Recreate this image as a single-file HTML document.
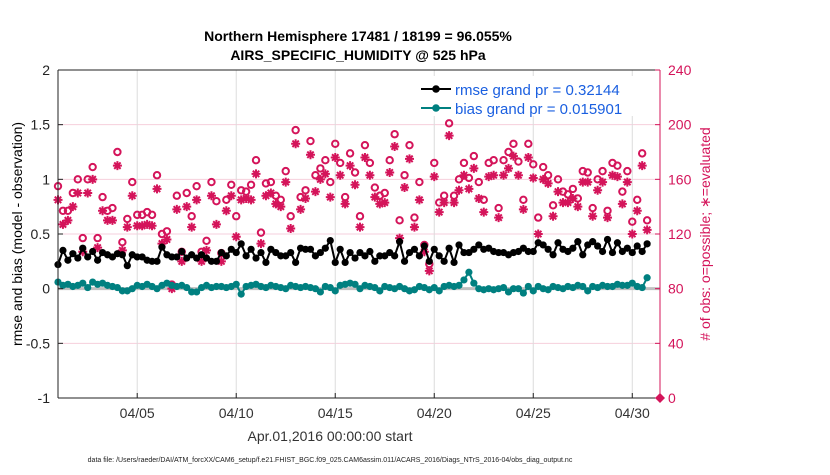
<!DOCTYPE html>
<html><head><meta charset="utf-8"><style>
body{margin:0;background:#fff;font-family:"Liberation Sans",Arial,sans-serif}
svg text{font-family:"Liberation Sans",Arial,sans-serif}
</style></head><body>
<svg id="c" width="830" height="470" xmlns="http://www.w3.org/2000/svg">
<rect width="830" height="470" fill="#fff"/>
<text x="358" y="41" text-anchor="middle" font-size="14" font-weight="bold">Northern Hemisphere 17481 / 18199 = 96.055%</text>
<text x="358" y="60" text-anchor="middle" font-size="14" font-weight="bold">AIRS_SPECIFIC_HUMIDITY @ 525 hPa</text>
<g id="grid"></g>
<g id="marks"></g>
<g id="axes"></g>
<text transform="translate(22,234) rotate(-90)" text-anchor="middle" font-size="14">rmse and bias (model - observation)</text>
<text transform="translate(710,234) rotate(-90)" text-anchor="middle" font-size="14" fill="#d4145a"># of obs: o=possible; ∗=evaluated</text>
<text x="330" y="441" text-anchor="middle" font-size="14" fill="#333">Apr.01,2016 00:00:00 start</text>
<text x="330" y="462" text-anchor="middle" font-size="7" fill="#222">data file: /Users/raeder/DAI/ATM_forcXX/CAM6_setup/f.e21.FHIST_BGC.f09_025.CAM6assim.011/ACARS_2016/Diags_NTrS_2016-04/obs_diag_output.nc</text>
<g>
<rect x="416" y="76" width="240" height="40" fill="#fff"/>
<line x1="421" y1="89" x2="451" y2="89" stroke="#000" stroke-width="2"/>
<circle cx="436" cy="89" r="3.8" fill="#000"/>
<text x="455" y="95" font-size="15" fill="#1a5fe0">rmse grand pr = 0.32144</text>
<line x1="421" y1="108" x2="451" y2="108" stroke="#008080" stroke-width="2"/>
<circle cx="436" cy="108" r="3.8" fill="#008080"/>
<text x="455" y="114" font-size="15" fill="#1a5fe0">bias grand pr = 0.015901</text>
</g>
</svg>
<script>
const rmse=[0.22,0.35,0.26,0.32,0.28,0.37,0.29,0.34,0.26,0.33,0.31,0.29,0.32,0.31,0.21,0.31,0.29,0.29,0.26,0.25,0.25,0.38,0.31,0.29,0.29,0.34,0.28,0.31,0.28,0.31,
0.28,0.25,0.25,0.33,0.30,0.36,0.33,0.41,0.30,0.36,0.28,0.33,0.24,0.36,0.33,0.30,0.30,0.33,0.24,0.37,0.36,0.36,0.30,0.33,0.37,0.44,0.24,0.36,0.24,0.33,
0.28,0.33,0.30,0.34,0.25,0.30,0.30,0.33,0.30,0.43,0.25,0.33,0.36,0.30,0.39,0.25,0.36,0.30,0.25,0.37,0.24,0.40,0.33,0.33,0.36,0.40,0.36,0.37,0.34,0.33,
0.33,0.31,0.33,0.34,0.37,0.34,0.34,0.42,0.40,0.36,0.31,0.42,0.36,0.34,0.37,0.43,0.31,0.40,0.43,0.39,0.34,0.45,0.33,0.42,0.34,0.37,0.33,0.39,0.34,0.41];
const bias=[0.06,0.03,0.04,0.02,0.03,0.05,0.01,0.06,0.04,0.05,0.03,0.02,0.01,-0.02,-0.02,0.00,0.03,0.02,0.04,0.02,0.00,0.03,0.05,0.03,0.02,0.03,0.01,-0.03,-0.03,0.01,
0.03,0.01,0.02,0.02,0.01,0.02,0.04,-0.05,0.02,0.03,0.04,0.02,0.01,0.03,0.02,0.01,0.00,0.03,0.02,0.01,0.02,0.01,0.00,-0.03,0.02,0.01,-0.02,0.03,0.04,0.05,
0.04,0.00,0.03,0.02,0.01,-0.02,0.02,0.01,0.00,0.02,0.00,-0.02,-0.01,0.02,0.01,-0.01,0.01,-0.02,0.02,0.03,0.02,0.03,0.08,0.15,0.05,0.00,-0.01,0.00,-0.01,0.00,
0.01,-0.03,0.00,0.00,-0.04,0.02,-0.02,0.02,0.00,-0.01,0.02,0.01,0.00,0.02,0.01,0.03,0.02,-0.02,0.02,0.01,0.03,0.02,0.02,0.04,0.03,0.03,0.05,0.02,0.01,0.10];
const possible=[155,137,137,150,160,117,160,169,117,147,137,139,180,114,131,158,134,134,136,134,163,120,122,83,148,107,150,133,155,107,
115,158,144,106,145,156,133,152,151,156,174,121,157,158,148,145,166,133,196,147,152,188,163,168,174,158,186,172,147,179,
165,133,185,172,154,148,150,174,193,130,163,185,132,158,112,98,172,143,148,201,148,160,172,161,177,158,145,172,174,139,
174,180,186,173,145,186,171,132,169,163,141,160,151,149,153,146,166,165,139,160,166,137,172,170,151,166,129,145,179,130];
const evaluated=[145,127,130,140,150,107,150,160,110,137,130,130,170,108,125,148,126,126,127,126,153,113,116,80,138,100,140,125,145,100,
108,148,127,100,137,148,118,145,146,145,164,113,148,150,142,140,158,124,186,138,146,178,151,160,164,147,176,163,142,170,
156,125,176,163,147,142,143,165,184,117,154,175,125,145,107,93,162,136,143,192,143,152,163,153,168,146,136,162,163,132,
163,168,177,163,138,176,161,120,160,157,133,151,143,143,146,140,158,158,133,152,158,132,163,162,142,158,120,137,170,123];
const leftTicks=[-1,-0.5,0,0.5,1,1.5,2];
const leftTickLabels=["-1","-0.5","0","0.5","1","1.5","2"];
const rightTicks=[0,40,80,120,160,200,240];
const xTickDays=[4,9,14,19,24,29];
const xTickLabels=["04/05","04/10","04/15","04/20","04/25","04/30"];
const stepDays=0.25;

const X0=58,X1=660,Y0=70,Y1=398,DMAX=30.4;
const NS="http://www.w3.org/2000/svg";
function xs(d){return X0+(d/DMAX)*(X1-X0);}
function yl(v){return Y1-(v+1)/3*(Y1-Y0);}
function yr(c){return Y1-c/240*(Y1-Y0);}
function mk(tag,at,parent){const e=document.createElementNS(NS,tag);for(const k in at)e.setAttribute(k,at[k]);parent.appendChild(e);return e;}
const grid=document.getElementById('grid'),marks=document.getElementById('marks'),axes=document.getElementById('axes');
mk('rect',{x:X0,y:Y0,width:X1-X0,height:Y1-Y0,fill:'#fff'},grid);
rightTicks.forEach(c=>{const l=mk('line',{x1:X0,x2:X1,y1:yr(c),y2:yr(c),stroke:'#f6cfdc','stroke-width':1},grid);

});
xTickDays.forEach(d=>{const l=mk('line',{x1:xs(d),x2:xs(d),y1:Y0,y2:Y1,stroke:'#dcdcdc','stroke-width':1},grid);

});
const z=mk('line',{x1:X0,x2:X1,y1:yl(0),y2:yl(0),stroke:'#c0c0c0','stroke-width':3},grid);


possible.forEach((c,i)=>{const e=mk('circle',{cx:xs(i*stepDays),cy:yr(c),r:3.2,fill:'none',stroke:'#d4145a','stroke-width':2},marks);

});
evaluated.forEach((c,i)=>{const cx=xs(i*stepDays),cy=yr(c),r=4.5,q=3.2;
const e=mk('path',{d:`M${cx-r},${cy}H${cx+r}M${cx},${cy-r}V${cy+r}M${cx-q},${cy-q}L${cx+q},${cy+q}M${cx-q},${cy+q}L${cx+q},${cy-q}`,stroke:'#d4145a','stroke-width':2,fill:'none'},marks);

});
function series(arr,col,name){
 const p=mk('polyline',{points:arr.map((v,i)=>xs(i*stepDays)+','+yl(v)).join(' '),fill:'none',stroke:col,'stroke-width':2},marks);
 
 
 arr.forEach((v,i)=>{const c=mk('circle',{cx:xs(i*stepDays),cy:yl(v),r:3.6,fill:col},marks);
 
 });
}
series(bias,'#008080','bias');
series(rmse,'#000','rmse');
mk('line',{x1:X0,x2:X0,y1:Y0,y2:Y1,stroke:'#222','stroke-width':1},axes);
mk('line',{x1:X0,x2:X1,y1:Y1,y2:Y1,stroke:'#222','stroke-width':1},axes);
mk('line',{x1:X0,x2:X1,y1:Y0,y2:Y0,stroke:'#222','stroke-width':1},axes);
mk('line',{x1:X1,x2:X1,y1:Y0,y2:Y1,stroke:'#d4145a','stroke-width':1},axes);
leftTicks.forEach((v,i)=>{mk('line',{x1:X0,x2:X0+5,y1:yl(v),y2:yl(v),stroke:'#222'},axes);
const t=mk('text',{x:X0-8,y:yl(v)+5,'text-anchor':'end','font-size':14,fill:'#222'},axes);t.textContent=leftTickLabels[i];

});
rightTicks.forEach(c=>{mk('line',{x1:X1-5,x2:X1,y1:yr(c),y2:yr(c),stroke:'#d4145a'},axes);
const t=mk('text',{x:X1+8,y:yr(c)+5,'font-size':14,fill:'#d4145a'},axes);t.textContent=String(c);

});
xTickDays.forEach((d,i)=>{mk('line',{x1:xs(d),x2:xs(d),y1:Y1,y2:Y1-5,stroke:'#222'},axes);
const t=mk('text',{x:xs(d),y:Y1+20,'text-anchor':'middle','font-size':14,fill:'#333'},axes);t.textContent=xTickLabels[i];

});
const dm=mk('path',{d:`M${X1-5},${Y1} L${X1},${Y1-5} L${X1+5},${Y1} L${X1},${Y1+5}Z`,fill:'#d4145a'},axes);


</script>
</body></html>
